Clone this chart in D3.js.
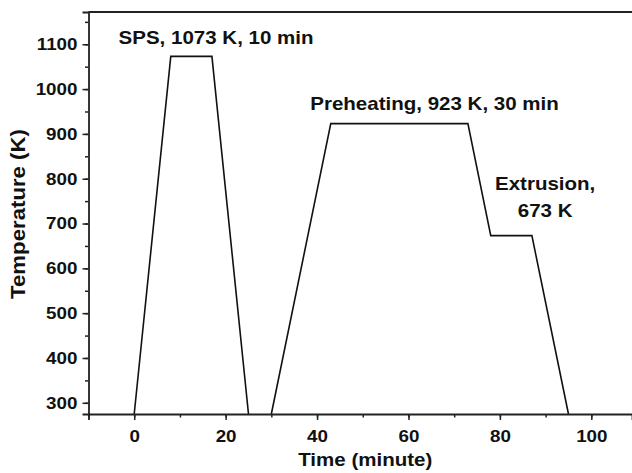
<!DOCTYPE html>
<html>
<head>
<meta charset="utf-8">
<script src="https://cdn.jsdelivr.net/npm/d3@7"></script>
<style>
   body { margin: 0; background: #fff; }
   svg text { font-family: "Liberation Sans", Arial, sans-serif; font-weight: bold; fill: #111; }
</style>
</head>
<body>
<div id="chart"></div>
<script>
// time (minute) and temperature (K) of the process
let times = [0, 8, 17, 25, null, 30, 43, 73, 78, 87, 95];
let temps = [275, 1073, 1073, 275, null, 275, 923, 923, 673, 673, 275];
let xTicks = [0, 20, 40, 60, 80, 100];
let yTicks = [300, 400, 500, 600, 700, 800, 900, 1000, 1100];
let notes = [
   {lines: ['SPS, 1073 K, 10 min'], t: 17.9, k: 1100},
   {lines: ['Preheating, 923 K, 30 min'], t: 65.7, k: 953},
   {lines: ['Extrusion,', '673 K'], t: 89.9, k: 775}
];

let sx = 1.14; // the original lettering is a bit wide

let margin = {top: 12, right: 0, bottom: 59, left: 88.5},
   width = 632 - margin.left - margin.right,
   height = 473 - margin.top - margin.bottom;

let x = d3.scaleLinear().domain([-10, 108.9]).range([0, width]);
let y = d3.scaleLinear().domain([275, 1172]).range([height, 0]);

let svg = d3.select("#chart")
   .append("svg")
   .attr("width", 632)
   .attr("height", 473)
   .append("g")
   .attr("transform", "translate(" + margin.left + "," + margin.top + ")");

let points = times.map((t, i) => ({t: t, k: temps[i]}));
let line = d3.line()
   .defined(d => d.t !== null)
   .x(d => x(d.t))
   .y(d => y(d.k));

svg.append("path")
   .datum(points)
   .attr("d", line)
   .attr("fill", "none")
   .attr("stroke", "#111")
   .attr("stroke-width", 1.6);

// minor ticks
svg.append("g")
   .attr("transform", "translate(0," + height + ")")
   .call(d3.axisBottom(x).tickValues(d3.range(-10, 109, 10)).tickSize(3.5).tickFormat(""))
   .call(g => g.select(".domain").remove());
svg.append("g")
   .call(d3.axisLeft(y).tickValues(d3.range(300, 1171, 50)).tickSize(3.5).tickFormat(""))
   .call(g => g.select(".domain").remove());

let xAxis = svg.append("g")
   .attr("transform", "translate(0," + height + ")")
   .call(d3.axisBottom(x).tickValues(xTicks).tickFormat(d3.format("d")).tickSize(6).tickPadding(10));
let yAxis = svg.append("g")
   .call(d3.axisLeft(y).tickValues(yTicks).tickFormat(d3.format("d")).tickSize(6).tickPadding(5));

[xAxis, yAxis].forEach(g => {
   g.selectAll("text").style("font-size", "16.5px").attr("fill", "#111");
   g.select(".domain").attr("stroke", "#222").attr("stroke-width", 1.8);
});
xAxis.selectAll("text").attr("transform", "scale(" + sx + ",1)");
yAxis.selectAll("text").attr("x", -11 / sx).attr("transform", "scale(" + sx + ",1)");
svg.selectAll(".tick line").attr("stroke", "#222").attr("stroke-width", 1.5);

// top frame line
svg.append("line")
   .attr("x1", 0).attr("x2", width)
   .attr("y1", 0).attr("y2", 0)
   .attr("stroke", "#222").attr("stroke-width", 1.8);

svg.append("text")
   .attr("transform", "translate(" + (width / 2 + 5) + "," + (height + 52) + ") scale(" + sx + ",1)")
   .attr("text-anchor", "middle")
   .style("font-size", "18px")
   .text("Time (minute)");

svg.append("text")
   .attr("transform", "translate(" + (-63.5) + "," + (height / 2 + 1) + ") rotate(-90) scale(" + sx + ",1)")
   .attr("text-anchor", "middle")
   .style("font-size", "19.5px")
   .text("Temperature (K)");

notes.forEach(n => {
   n.lines.forEach((s, i) => {
      svg.append("text")
         .attr("transform", "translate(" + x(n.t) + "," + (y(n.k) + i * 27) + ") scale(" + sx + ",1)")
         .attr("text-anchor", "middle")
         .style("font-size", "18px")
         .text(s);
   });
});
</script>
</body>
</html>
